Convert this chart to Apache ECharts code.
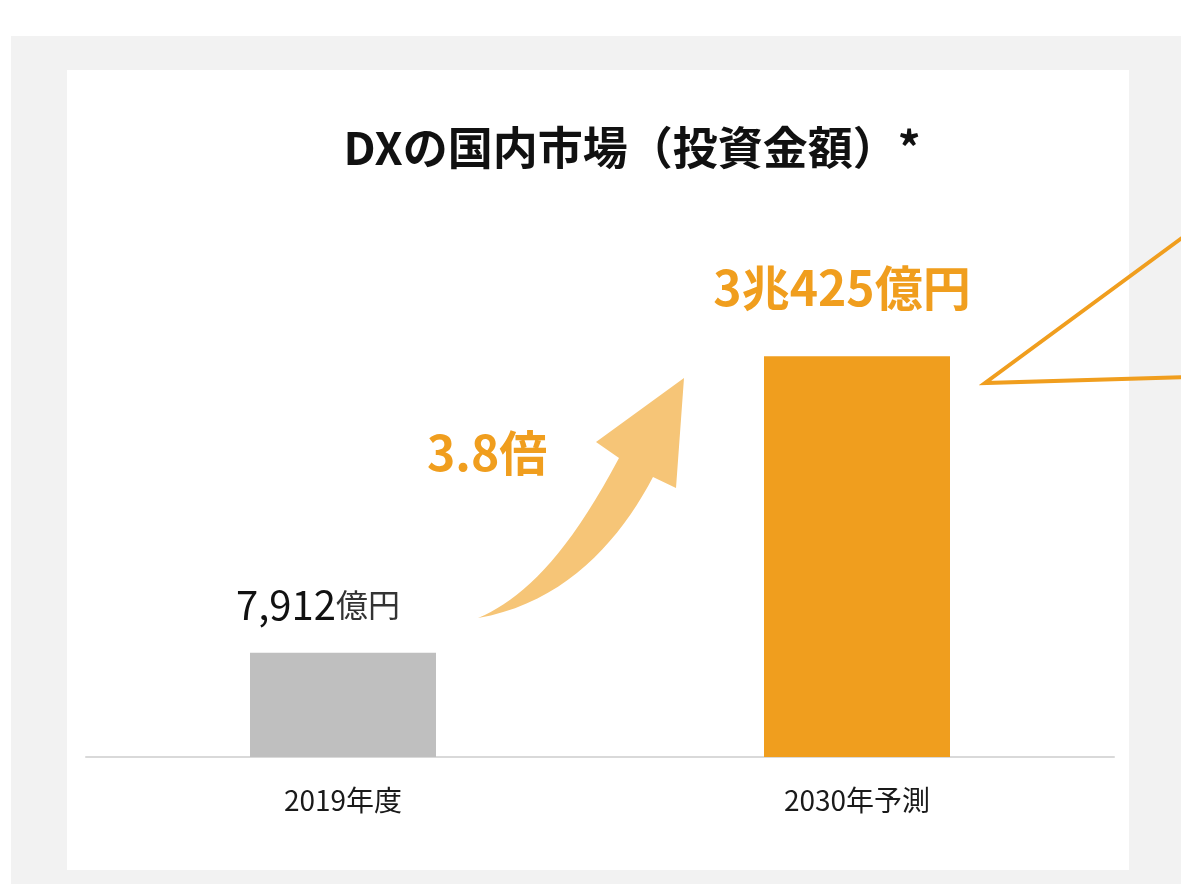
<!DOCTYPE html>
<html>
<head>
<meta charset="utf-8">
<script src="https://cdn.jsdelivr.net/npm/echarts@6/dist/echarts.min.js"></script>
<style>
  html, body { margin: 0; padding: 0; background: #fff; }
  #wrap { position: relative; width: 1181px; height: 884px; overflow: hidden; }
  #frame { position: absolute; left: 11px; top: 36px; width: 1200px; height: 900px; background: #f2f2f2; }
  #panel { position: absolute; left: 67px; top: 70px; width: 1062px; height: 800px; background: #fff; }
  #chart { position: absolute; left: 0; top: 0; width: 1181px; height: 884px; }
</style>
</head>
<body>
<div id="wrap">
  <div id="frame"></div>
  <div id="panel"></div>
  <div id="chart"></div>
</div>
<script>
// データ
const categories = ['2019年度', '2030年予測']
const values = [7912, 30425]
const valueLabels = ['7,912', '3兆425']
const barColors = ['#bfbfbf', '#f09e1e']
const growthText = '3.8倍'

const FONT = '"Noto Sans CJK JP", "Noto Sans", sans-serif'
const ORANGE = '#f09e1e'

// 矢印の輪郭（装飾）
function bez(p0, p1, p2, p3, n) {
  const pts = []
  for (let i = 0; i <= n; i++) {
    const t = i / n, u = 1 - t
    pts.push([
      u*u*u*p0[0] + 3*u*u*t*p1[0] + 3*u*t*t*p2[0] + t*t*t*p3[0],
      u*u*u*p0[1] + 3*u*u*t*p1[1] + 3*u*t*t*p2[1] + t*t*t*p3[1]
    ])
  }
  return pts
}
const arrowPts = [].concat(
  bez([478, 618], [520, 600], [565, 560], [619, 458], 20),
  [[596, 442], [684, 378], [676, 488]],
  bez([653, 477], [620, 540], [565, 603], [478, 618], 20)
)

const myChart = echarts.init(document.getElementById('chart'))

const option = {
  backgroundColor: 'transparent',
  animation: false,
  title: {
    text: 'DXの国内市場（投資金額）*',
    left: 627,
    textAlign: 'center',
    top: 120,
    textStyle: { fontFamily: FONT, fontSize: 45, fontWeight: 'bold', color: '#111' }
  },
  grid: { left: 86, right: 67, top: 230, bottom: 127 },
  xAxis: {
    type: 'category',
    data: categories,
    axisLine: { lineStyle: { color: '#d9d9d9', width: 2 } },
    axisTick: { show: false },
    axisLabel: { fontFamily: FONT, fontSize: 28, color: '#1a1a1a', margin: 29 }
  },
  yAxis: {
    type: 'value',
    min: 0,
    max: 40000,
    show: false,
    splitLine: { show: false }
  },
  series: [{
    type: 'bar',
    barWidth: 186,
    data: values.map((v, i) => ({
      value: v,
      itemStyle: { color: barColors[i] },
      label: i === 0
        ? {
            show: true, position: 'top', distance: 28, offset: [-25, 0],
            formatter: '{n|' + valueLabels[i] + '}{u|億円}',
            rich: {
              n: { fontFamily: FONT, fontSize: 40, color: '#111' },
              u: { fontFamily: FONT, fontSize: 32, color: '#333' }
            }
          }
        : {
            show: true, position: 'top', distance: 44, offset: [-15, 0],
            formatter: '{n|' + valueLabels[i] + '億円}',
            rich: {
              n: { fontFamily: FONT, fontSize: 48, fontWeight: 'bold', color: ORANGE }
            }
          }
    }))
  }],
  graphic: [
    {
      type: 'polygon', silent: true,
      shape: { points: arrowPts },
      style: { fill: '#f6c577' }
    },
    {
      type: 'text', left: 427, top: 429,
      style: { text: growthText, fontFamily: FONT, fontSize: 48, fontWeight: 'bold', fill: ORANGE }
    },
    // 吹き出し
    {
      type: 'polyline', silent: true,
      shape: { points: [[1190, 232], [985, 383], [1190, 377]] },
      style: { stroke: ORANGE, lineWidth: 4, fill: null, lineJoin: 'miter' }
    }
  ]
}

myChart.setOption(option)
window.onresize = () => { myChart.resize() }
</script>
</body>
</html>
